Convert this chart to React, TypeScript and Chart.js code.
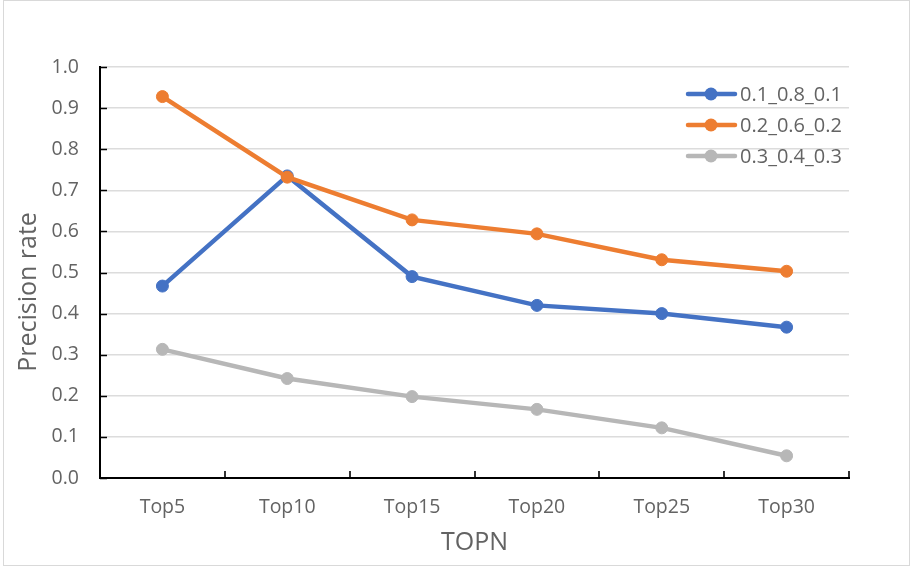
import React, { useEffect, useRef } from "react";
import { Chart, registerables } from "chart.js";

Chart.register(...registerables);

// Categories along the horizontal axis
const categories = ["Top5", "Top10", "Top15", "Top20", "Top25", "Top30"];

// Series names and values (precision rate per TOPN)
const seriesNames = ["0.1_0.8_0.1", "0.2_0.6_0.2", "0.3_0.4_0.3"];
const seriesA = [0.467, 0.735, 0.49, 0.42, 0.4, 0.367];
const seriesB = [0.928, 0.732, 0.628, 0.594, 0.531, 0.503];
const seriesC = [0.313, 0.242, 0.198, 0.167, 0.122, 0.054];
const seriesColors = ["#4472C4", "#ED7D31", "#B7B7B7"];

const xTitle = "TOPN";
const yTitle = "Precision rate";

const fontFamily = "'Open Sans', sans-serif";
const textColor = "#636363";

const decorations = {
  id: "decorations",
  afterDraw(chart: any) {
    const { ctx, chartArea: area, scales } = chart;
    const xs = scales.x;
    const ys = scales.y;
    ctx.save();

    // tick marks pointing into the plot area
    ctx.strokeStyle = "#000";
    ctx.lineWidth = 1.6;
    ctx.beginPath();
    ys.ticks.forEach((t: any) => {
      const py = Math.round(ys.getPixelForValue(t.value)) + 0.5;
      ctx.moveTo(area.left, py);
      ctx.lineTo(area.left + 7, py);
    });
    const n = categories.length;
    for (let i = 1; i <= n; i++) {
      const px = Math.round(xs.left + (xs.width * i) / n);
      ctx.moveTo(px, area.bottom);
      ctx.lineTo(px, area.bottom - 7);
    }
    ctx.stroke();

    // axis titles
    ctx.fillStyle = textColor;
    ctx.font = `25px ${fontFamily}`;
    ctx.textAlign = "center";
    ctx.textBaseline = "middle";
    ctx.fillText(xTitle, (area.left + area.right) / 2, 543);
    ctx.save();
    ctx.translate(29, 292);
    ctx.rotate(-Math.PI / 2);
    ctx.fillText(yTitle, 0, 0);
    ctx.restore();

    // legend: line with marker, then the series name
    ctx.font = `20px ${fontFamily}`;
    ctx.textAlign = "left";
    chart.data.datasets.forEach((ds: any, i: number) => {
      const cy = 94 + i * 31;
      ctx.strokeStyle = ds.borderColor;
      ctx.lineWidth = 4.5;
      ctx.lineCap = "round";
      ctx.beginPath();
      ctx.moveTo(688, cy);
      ctx.lineTo(735, cy);
      ctx.stroke();
      ctx.fillStyle = ds.borderColor;
      ctx.beginPath();
      ctx.arc(711, cy, 6.5, 0, Math.PI * 2);
      ctx.fill();
      ctx.fillStyle = textColor;
      ctx.fillText(ds.label, 740, cy + 1);
    });

    ctx.restore();
  },
};

function LineChart() {
  const ref = useRef<HTMLCanvasElement | null>(null);

  useEffect(() => {
    if (!ref.current) return;
    const values = [seriesA, seriesB, seriesC];
    const chart = new Chart(ref.current, {
      type: "line",
      data: {
        labels: categories,
        datasets: values.map((v, i) => ({
          label: seriesNames[i],
          data: v,
          borderColor: seriesColors[i],
          backgroundColor: seriesColors[i],
          pointBackgroundColor: seriesColors[i],
          pointBorderColor: seriesColors[i],
          borderWidth: 4.5,
          pointRadius: 6,
          pointBorderWidth: 1,
          tension: 0,
          order: values.length - i,
        })),
      },
      options: {
        responsive: false,
        animation: false,
        events: [],
        layout: { padding: { left: 0, top: 67, right: 63, bottom: 0 } },
        plugins: {
          legend: { display: false },
          tooltip: { enabled: false },
          title: { display: false },
        },
        scales: {
          x: {
            offset: true,
            grid: { display: false, drawTicks: false },
            border: { display: true, color: "#000", width: 2 },
            ticks: {
              color: textColor,
              padding: 18,
              font: { family: fontFamily, size: 19.5 },
              maxRotation: 0,
            },
            afterFit(scale: any) {
              scale.height = 92;
            },
          },
          y: {
            min: 0,
            max: 1,
            grid: { color: "#DCDCDC", lineWidth: 1.6, drawTicks: false },
            border: { display: true, color: "#000", width: 2 },
            ticks: {
              stepSize: 0.1,
              color: textColor,
              padding: 21,
              font: { family: fontFamily, size: 19.5 },
              callback: (v: any) => Number(v).toFixed(1),
            },
            afterFit(scale: any) {
              scale.width = 100;
            },
          },
        },
      },
      plugins: [decorations],
    });
    return () => chart.destroy();
  }, []);

  return <canvas ref={ref} width={912} height={570} style={{ position: "absolute", left: 0, top: 0 }} />;
}

export default function App() {
  return (
    <div style={{ position: "fixed", left: 0, top: 0, width: 912, height: 570, background: "#fff" }}>
      <div
        style={{
          position: "absolute",
          left: 3,
          top: 0,
          width: 907,
          height: 566,
          boxSizing: "border-box",
          border: "1.5px solid #D9D9D9",
        }}
      />
      <LineChart />
    </div>
  );
}
